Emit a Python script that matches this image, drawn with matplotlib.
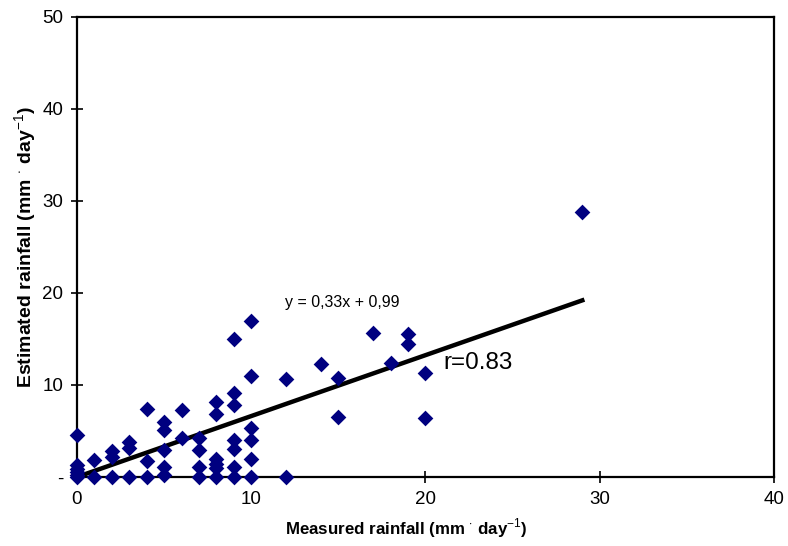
import matplotlib
matplotlib.use('Agg')
from matplotlib import pyplot as plt
from matplotlib.ticker import FuncFormatter

plt.rcParams['font.family'] = ['Liberation Sans', 'DejaVu Sans']
plt.rcParams['mathtext.fontset'] = 'custom'
plt.rcParams['mathtext.rm'] = 'Liberation Sans'
plt.rcParams['mathtext.bf'] = 'Liberation Sans:bold'

# measured vs estimated rainfall (mm/day)
measured = [0, 0, 0, 0, 0, 0,
            1, 1,
            2, 2, 2,
            3, 3, 3,
            4, 4, 4,
            5, 5, 5, 5, 5,
            6, 6,
            7, 7, 7, 7,
            8, 8, 8, 8, 8, 8,
            9, 9, 9, 9, 9, 9, 9,
            10, 10, 10, 10, 10, 10,
            12, 12,
            14,
            15, 15,
            17,
            18,
            19, 19,
            20, 20,
            29]
estimated = [4.6, 1.3, 0.9, 0.5, 0.2, 0,
             1.9, 0,
             2.8, 2.2, 0,
             3.8, 3.2, 0,
             7.4, 1.7, 0,
             6.0, 5.1, 2.9, 1.1, 0.2,
             7.3, 4.2,
             4.2, 2.9, 1.1, 0,
             8.1, 6.9, 2.0, 1.4, 1.0, 0,
             15.0, 9.1, 7.8, 4.0, 3.0, 1.1, 0,
             17.0, 11.0, 5.3, 4.0, 2.0, 0,
             10.6, 0,
             12.3,
             10.8, 6.5,
             15.6,
             12.4,
             15.5, 14.5,
             11.3, 6.4,
             28.8]

# trend line as drawn in the chart
line_x = [0, 29]
line_y = [0, 19.2]

x_ticks = [0, 10, 20, 30, 40]
y_ticks = [0, 10, 20, 30, 40, 50]

fig = plt.figure(figsize=(7.88, 5.46), dpi=100)
ax = fig.add_axes([0.0977, 0.1264, 0.8845, 0.8425])

ax.plot(line_x, line_y, color='black', linewidth=3.2, zorder=2)
ax.scatter(measured, estimated, marker='D', s=64, color='#000080',
           linewidths=0, zorder=3, clip_on=False)

ax.set_xlim(0, 40)
ax.set_ylim(0, 50)
ax.set_xticks(x_ticks)
ax.set_yticks(y_ticks)
ax.yaxis.set_major_formatter(FuncFormatter(lambda v, p: '-' if v == 0 else '%d' % v))

for s in ax.spines.values():
    s.set_linewidth(1.6)
ax.tick_params(direction='inout', length=8, width=1.2, labelsize=13.5, pad=6)

ax.set_xlabel('Measured rainfall (mm $^{\\cdot}$ day$^{-1}$)', fontsize=12.2,
              fontweight='bold')
ax.set_ylabel('Estimated rainfall (mm $^{\\cdot}$ day$^{-1}$)', fontsize=14,
              fontweight='bold')
ax.xaxis.set_label_coords(0.472, -0.085)
ax.yaxis.set_label_coords(-0.055, 0.50)

ax.text(15.2, 19.0, 'y = 0,33x + 0,99', fontsize=11.5, ha='center', va='center')
ax.text(21.0, 12.4, 'r=0.83', fontsize=17.5, ha='left', va='center')

fig.savefig('out.png', dpi=100)
